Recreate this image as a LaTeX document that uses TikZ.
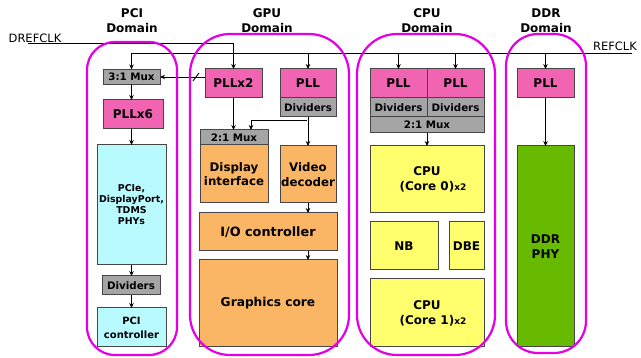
\documentclass[tikz,border=0pt]{standalone}
\usepackage{fontspec}
\setmainfont{DejaVu Sans}
\usetikzlibrary{arrows.meta}
\definecolor{pinkc}{RGB}{240,100,178}
\definecolor{grayc}{RGB}{165,165,165}
\definecolor{cyanc}{RGB}{185,250,255}
\definecolor{orangec}{RGB}{250,182,100}
\definecolor{yellowc}{RGB}{255,255,110}
\definecolor{greenc}{RGB}{104,186,0}
\definecolor{magc}{RGB}{228,0,228}
\definecolor{edgec}{RGB}{70,70,70}
\tikzset{
  blk/.style={draw=edgec,line width=1pt,inner sep=0pt,outer sep=0pt,align=center,font=\bfseries\fontsize{12}{14}\selectfont},
  pinkbox/.style={blk,fill=pinkc},
  graybox/.style={blk,fill=grayc,font=\bfseries\fontsize{10.3}{12}\selectfont},
  cyanbox/.style={blk,fill=cyanc},
  orbox/.style={blk,fill=orangec,font=\bfseries\fontsize{11.8}{14.5}\selectfont},
  yelbox/.style={blk,fill=yellowc},
  grbox/.style={blk,fill=greenc},
  arr/.style={draw=black,line width=0.9pt,-{Stealth[length=5pt,width=4.5pt]}},
  domline/.style={draw=magc,line width=2.2pt},
  dlabel/.style={font=\bfseries\fontsize{12}{14.5}\selectfont,align=center},
  clk/.style={font=\fontsize{11.5}{13}\selectfont}
}
\begin{document}
\begin{tikzpicture}[x=1pt,y=-1pt]
\useasboundingbox[fill=white] (0,0) rectangle (641,358);

% domain labels
\node[dlabel] (lpci) at (132,20.5) {PCI\\Domain};
\node[dlabel] (lgpu) at (267,20.5) {GPU\\Domain};
\node[dlabel] (lcpu) at (427,20.5) {CPU\\Domain};
\node[dlabel] (lddr) at (546,20.5) {DDR\\Domain};

% clock labels
\node[clk] (tdref) at (35,38) {DREFCLK};
\node[clk] (tref) at (615,46) {REFCLK};

% PCI domain
\node[graybox,minimum width=57pt,minimum height=15pt] (pmux) at (131.5,77) {3:1 Mux};
\node[pinkbox,minimum width=60pt,minimum height=29pt] (pllx6) at (133,114.5) {PLLx6};
\node[cyanbox,minimum width=69pt,minimum height=120pt,font=\bfseries\fontsize{9.4}{11}\selectfont] (pcie) at (131.5,205) {PCIe,\\DisplayPort,\\TDMS\\PHYs};
\node[graybox,minimum width=58pt,minimum height=19pt] (pdiv) at (131,285.5) {Dividers};
\node[cyanbox,minimum width=69pt,minimum height=39pt,font=\bfseries\fontsize{10}{14}\selectfont] (pcictl) at (131.5,327.5) {PCI\\controller};

% GPU domain
\node[pinkbox,minimum width=57pt,minimum height=29pt] (pllx2) at (233.5,83.5) {PLLx2};
\node[pinkbox,minimum width=56pt,minimum height=29pt] (gpll) at (308,83.5) {PLL};
\node[graybox,minimum width=56pt,minimum height=19pt] (gdiv) at (308,107.5) {Dividers};
\node[graybox,minimum width=68pt,minimum height=15pt] (gmux) at (234,137.5) {2:1 Mux};
\node[orbox,minimum width=68pt,minimum height=58pt] (disp) at (234,174) {Display\\interface};
\node[orbox,minimum width=56pt,minimum height=57pt] (video) at (308,174.5) {Video\\decoder};
\node[orbox,minimum width=138pt,minimum height=38pt,font=\bfseries\fontsize{12.8}{14}\selectfont] (io) at (268,232) {I/O controller};
\node[orbox,minimum width=138pt,minimum height=87pt,font=\bfseries\fontsize{12.2}{14}\selectfont] (gfx) at (268,303.5) {Graphics core};

% CPU domain
\node[pinkbox,minimum width=57pt,minimum height=29pt] (cpll1) at (398.5,83.5) {PLL};
\node[pinkbox,minimum width=57pt,minimum height=29pt] (cpll2) at (455.5,83.5) {PLL};
\node[graybox,minimum width=57pt,minimum height=19pt] (cdiv1) at (398.5,107.5) {Dividers};
\node[graybox,minimum width=57pt,minimum height=19pt] (cdiv2) at (455.5,107.5) {Dividers};
\node[graybox,minimum width=114pt,minimum height=16pt] (cmux) at (427,125) {2:1 Mux};
\node[yelbox,minimum width=114pt,minimum height=67pt,font=\bfseries\fontsize{12}{15}\selectfont] (core0) at (427,179.5) {CPU\\(Core 0)\rlap{\fontsize{9}{10}\selectfont x2}};
\node[yelbox,minimum width=68pt,minimum height=48pt] (nb) at (404,246) {NB};
\node[yelbox,minimum width=35pt,minimum height=48pt] (dbe) at (466.5,246) {DBE};
\node[yelbox,minimum width=114pt,minimum height=68pt,font=\bfseries\fontsize{12}{15}\selectfont] (core1) at (427,313) {CPU\\(Core 1)\rlap{\fontsize{9}{10}\selectfont x2}};

% DDR domain
\node[pinkbox,minimum width=57pt,minimum height=29pt] (dpll) at (545.5,83.5) {PLL};
\node[grbox,minimum width=57pt,minimum height=201pt,font=\bfseries\fontsize{12}{15}\selectfont] (phy) at (545.5,246.5) {DDR\\PHY};

% clock lines
\coordinate (dref) at (28,43);
\coordinate (refR) at (632,53);
\draw[arr] (dref) -| (pllx2.north);
\draw[arr] (refR) -| (pmux.north);
\draw[arr] (gpll.north |- refR) -- (gpll.north);
\draw[arr] (cpll1.north |- refR) -- (cpll1.north);
\draw[arr] (cpll2.north |- refR) -- (cpll2.north);
\draw[arr] (dpll.north |- refR) -- (dpll.north);

% PCI arrows
\draw[arr] (pllx2.west |- pmux) -- (pmux.east);
\draw[line width=0.9pt] (193,81) -- (199,73);
\draw[arr] (pmux.south) -- (pmux.south |- pllx6.north);
\draw[arr] (pmux.south |- pllx6.south) -- (pmux.south |- pcie.north);
\draw[arr] (pmux.south |- pcie.south) -- (pmux.south |- pdiv.north);
\draw[arr] (pmux.south |- pdiv.south) -- (pmux.south |- pcictl.north);

% GPU arrows
\coordinate (gbr) at (307,120);
\draw[arr] (pllx2.south) -- (pllx2.south |- gmux.north);
\draw[arr] (gdiv.south) -- (video.north);
\draw[arr] (gbr) -| ([xshift=17pt]gmux.north);
\draw[arr] (video.south) -- (video.south |- io.north);
\draw[arr] (video.south |- io.south) -- (video.south |- gfx.north);

% CPU arrows
\draw[arr] (cmux.south) -- (core0.north);
\draw[arr] (dpll.south) -- (phy.north);

% domain outlines
\draw[domline,rounded corners=28pt] (87,42) rectangle (177,355);
\draw[domline,rounded corners=40pt] (190,34) rectangle (349,355);
\draw[domline,rounded corners=40pt] (357,34) rectangle (495,355);
\draw[domline,rounded corners=32pt] (506,34) rectangle (586,353);
\end{tikzpicture}
\end{document}
